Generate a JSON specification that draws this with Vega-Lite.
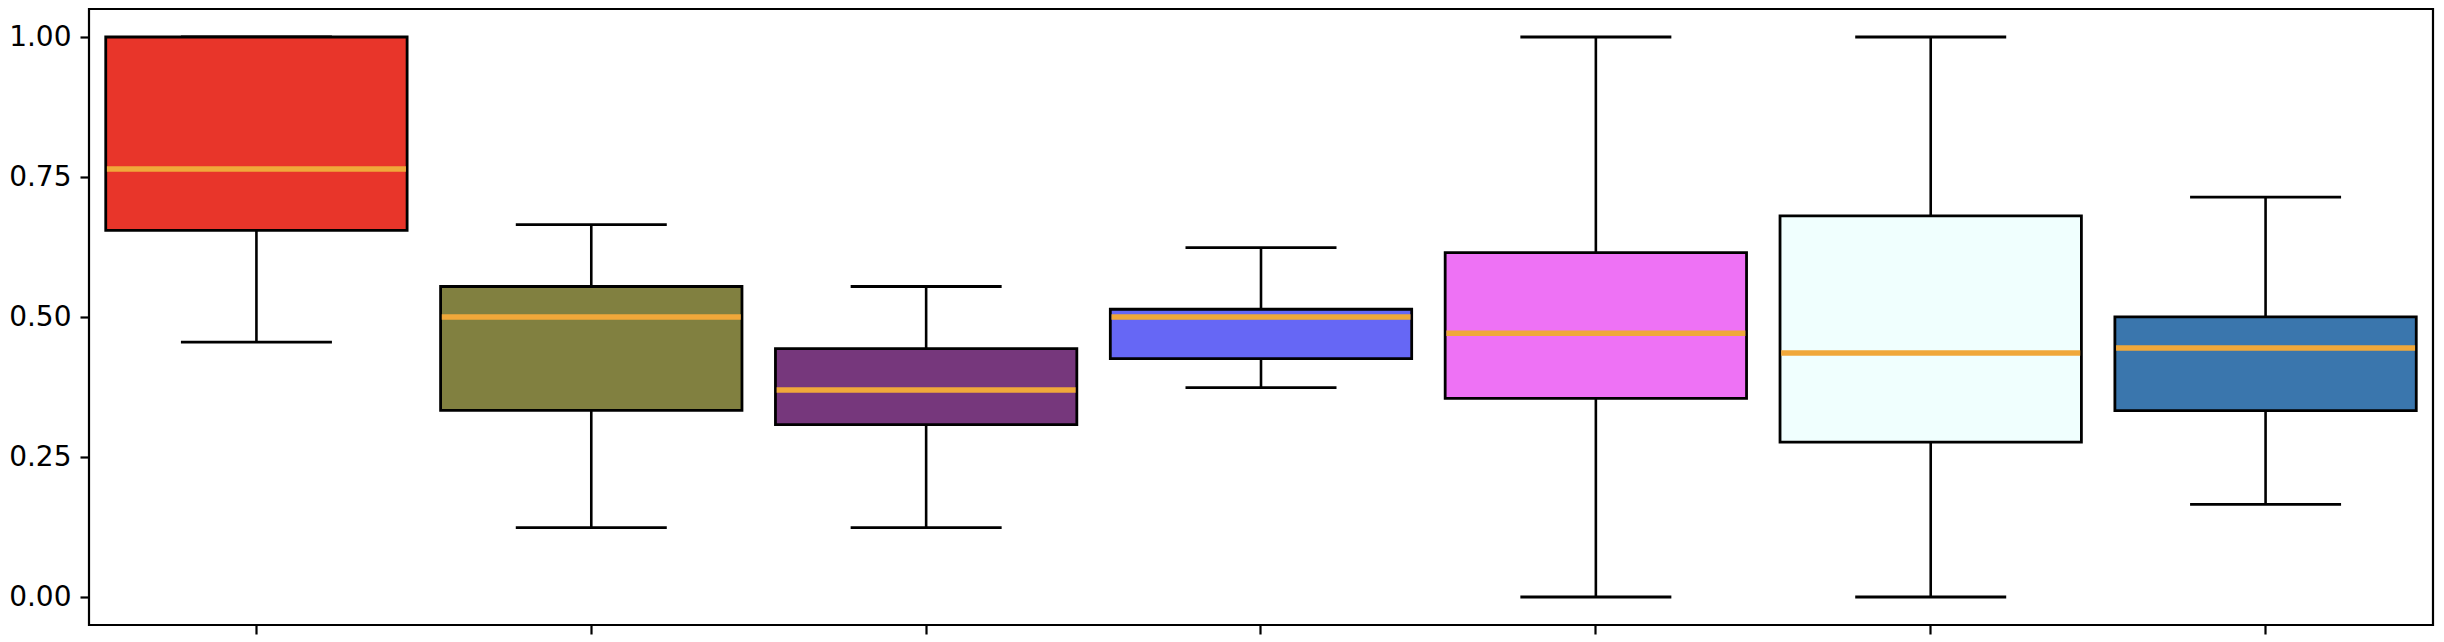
{
  "$schema": "https://vega.github.io/schema/vega-lite/v6.json",
  "width": 2344,
  "height": 616,
  "autosize": {"type": "none"},
  "padding": {"left": 89, "top": 9, "right": 11, "bottom": 17},
  "background": "white",
  "config": {"view": {"stroke": "black", "strokeWidth": 2.2}, "font": "DejaVu Sans"},
  "data": {
    "values": [
      {"group": "A", "lower": 0.455, "q1": 0.6547, "median": 0.7645, "q3": 1.0, "upper": 1.0},
      {"group": "B", "lower": 0.124, "q1": 0.3333, "median": 0.5, "q3": 0.5545, "upper": 0.665},
      {"group": "C", "lower": 0.124, "q1": 0.3077, "median": 0.3696, "q3": 0.4435, "upper": 0.5545},
      {"group": "D", "lower": 0.3738, "q1": 0.4257, "median": 0.5, "q3": 0.5138, "upper": 0.624},
      {"group": "E", "lower": 0.0, "q1": 0.3547, "median": 0.4709, "q3": 0.615, "upper": 1.0},
      {"group": "F", "lower": 0.0, "q1": 0.2765, "median": 0.4357, "q3": 0.6805, "upper": 1.0},
      {"group": "G", "lower": 0.1653, "q1": 0.3328, "median": 0.4448, "q3": 0.5004, "upper": 0.714}
    ]
  },
  "encoding": {
    "x": {
      "field": "group",
      "type": "nominal",
      "sort": null,
      "scale": {"paddingInner": 0, "paddingOuter": 0},
      "axis": {"labels": false, "title": null, "domain": false, "tickSize": 9, "tickWidth": 2.2, "tickColor": "black"}
    }
  },
  "layer": [
    {
      "mark": {"type": "rule", "color": "black", "strokeWidth": 2.6},
      "encoding": {
        "y": {
          "field": "lower",
          "type": "quantitative",
          "scale": {"domain": [-0.05, 1.05], "nice": false, "zero": false},
          "axis": {
            "values": [0, 0.25, 0.5, 0.75, 1],
            "format": ".2f",
            "title": null,
            "grid": false,
            "domain": false,
            "tickSize": 9,
            "tickWidth": 2.2,
            "tickColor": "black",
            "labelFontSize": 28,
            "labelColor": "black",
            "labelPadding": 9,
            "labelFont": "DejaVu Sans"
          }
        },
        "y2": {"field": "upper"}
      }
    },
    {
      "mark": {"type": "tick", "color": "black", "opacity": 1, "thickness": 2.8, "size": 151},
      "encoding": {"y": {"field": "lower", "type": "quantitative"}}
    },
    {
      "mark": {"type": "tick", "color": "black", "opacity": 1, "thickness": 2.8, "size": 151},
      "encoding": {"y": {"field": "upper", "type": "quantitative"}}
    },
    {
      "mark": {"type": "bar", "width": {"band": 0.9}, "stroke": "black", "strokeWidth": 2.8, "opacity": 1},
      "encoding": {
        "y": {"field": "q1", "type": "quantitative"},
        "y2": {"field": "q3"},
        "color": {
          "field": "group",
          "type": "nominal",
          "scale": {
            "domain": ["A", "B", "C", "D", "E", "F", "G"],
            "range": ["#E8352A", "#818040", "#76377C", "#6667F5", "#EE72F5", "#F0FFFE", "#3A76AD"]
          },
          "legend": null
        }
      }
    },
    {
      "mark": {"type": "tick", "color": "#F0A83A", "opacity": 1, "thickness": 5.5, "size": 299},
      "encoding": {"y": {"field": "median", "type": "quantitative"}}
    }
  ]
}
